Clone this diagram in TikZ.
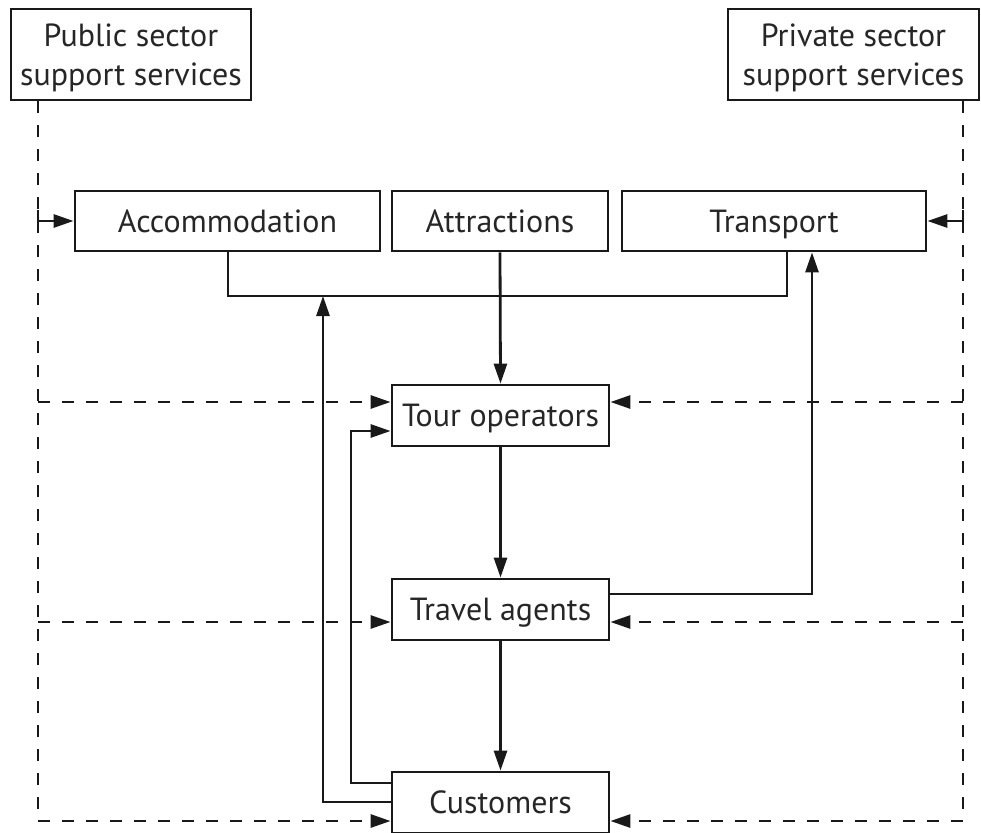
\documentclass[tikz,border=0pt]{standalone}
\usepackage{fontspec}
\setmainfont{PT Sans}
\usetikzlibrary{arrows.meta}
\begin{document}
\begin{tikzpicture}[x=1pt,y=-1pt,
  box/.style={draw=black!90, line width=2.8pt, minimum height=61pt, inner sep=0pt,
    font=\fontsize{32}{39}\selectfont, text=black!85, align=center},
  one/.style={text height=26pt, text depth=4pt},
  ln/.style={line width=2.8pt, draw=black!90},
  dsh/.style={line width=2.8pt, draw=black!90, dash pattern=on 12pt off 12pt},
  arr/.style={-{Triangle[length=20pt,width=13pt]}}]
\useasboundingbox (0,0) rectangle (981,832);
% boxes
\node[box, minimum width=240pt, minimum height=91pt] (pub) at (131,54.5) {\rule{0pt}{29pt}Public sector\\support services};
\node[box, minimum width=251pt, minimum height=91pt] (priv) at (853.5,54.5) {\rule{0pt}{29pt}Private sector\\support services};
\node[box, one, minimum width=305pt, minimum height=60pt] (acc) at (227.5,221) {Accommodation};
\node[box, one, minimum width=216pt, minimum height=60pt] (att) at (500,221) {Attractions};
\node[box, one, minimum width=304pt, minimum height=60pt] (tra) at (774,221) {Transport};
\node[box, one, minimum width=217pt] (tour) at (500.5,415.5) {Tour operators};
\node[box, one, minimum width=217pt] (trav) at (500.5,609.5) {Travel agents};
\node[box, one, minimum width=217pt] (cust) at (500.5,802.5) {Customers};
% helper coordinates
\coordinate (lx) at (38,0);
\coordinate (rx) at (963,0);
\coordinate (ys) at (0,210);
\coordinate (yt) at (0,402);
\coordinate (ya) at (0,622);
\coordinate (yc) at (0,821);
\coordinate (yj) at (0,296);
\coordinate (xa) at (228,0);
\coordinate (xt) at (787,0);
\coordinate (xu) at (323,0);
\coordinate (xv) at (351,0);
\coordinate (xw) at (812,0);
\coordinate (yu) at (0,802);
\coordinate (yv) at (0,783);
\coordinate (yw) at (0,431);
\coordinate (yx) at (0,594);
% dashed buses
\draw[dsh, arr] (lx |- pub.south) -- (lx |- yc) -- (cust.west |- yc);
\draw[dsh, arr] (rx |- priv.south) -- (rx |- yc) -- (cust.east |- yc);
\draw[ln, arr] (lx |- ys) -- (lx |- acc.west) -- (acc.west);
\draw[ln, arr] (rx |- ys) -- (rx |- tra.east) -- (tra.east);
\draw[dsh, arr] (lx |- yt) -- (tour.west |- yt);
\draw[dsh, arr] (rx |- yt) -- (tour.east |- yt);
\draw[dsh, arr] (lx |- ya) -- (trav.west |- ya);
\draw[dsh, arr] (rx |- ya) -- (trav.east |- ya);
% solid connectors
\draw[ln] (xa |- acc.south) -- (xa |- yj) -- (xt |- yj) -- (xt |- tra.south);
\draw[ln, arr] (att.south) -- (tour.north);
\draw[ln, arr] (cust.west |- yu) -- (xu |- yu) -- (xu |- yj);
\draw[ln, arr] (cust.west |- yv) -- (xv |- yv) -- (xv |- yw) -- (tour.west |- yw);
\draw[ln, arr] (tour.south) -- (trav.north);
\draw[ln, arr] (trav.east |- yx) -- (xw |- yx) -- (xw |- tra.south);
\draw[ln, arr] (trav.south) -- (cust.north);
\end{tikzpicture}
\end{document}
